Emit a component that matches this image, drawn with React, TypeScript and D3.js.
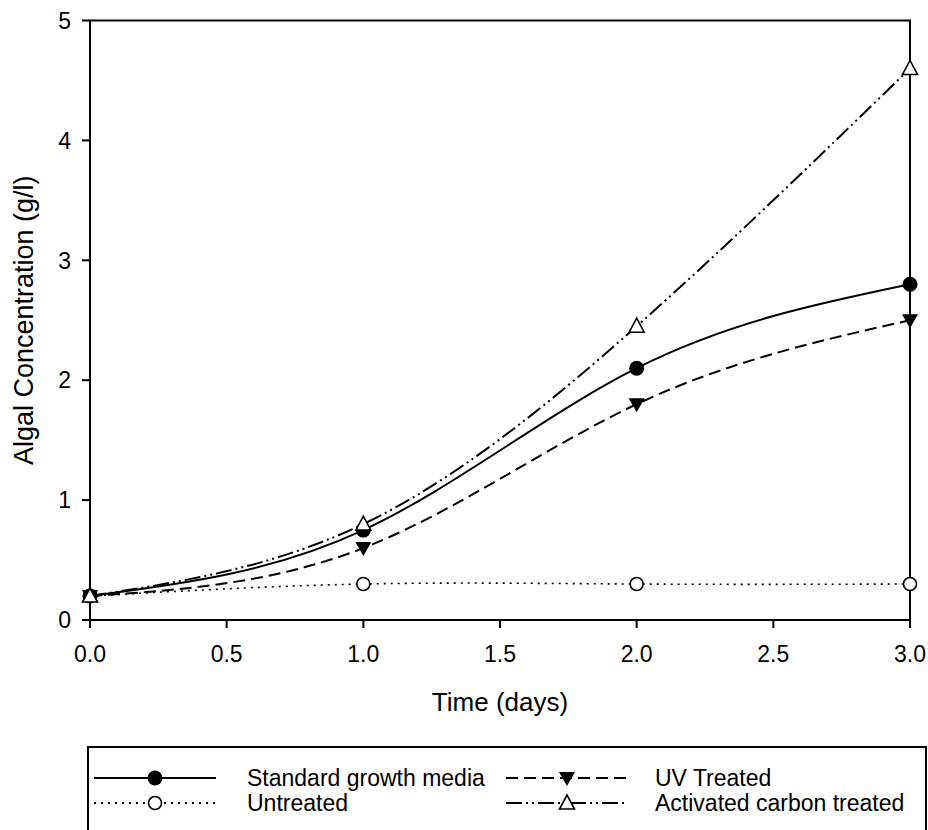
import React from "react";
import * as d3 from "d3";

const days = [0, 1, 2, 3];
const standardGrowth = [0.2, 0.75, 2.1, 2.8];
const untreated = [0.2, 0.3, 0.3, 0.3];
const uvTreated = [0.2, 0.6, 1.8, 2.5];
const activatedCarbon = [0.2, 0.8, 2.45, 4.6];
const xTicks = [0, 0.5, 1, 1.5, 2, 2.5, 3];
const yTicks = [0, 1, 2, 3, 4, 5];
const seriesNames = ["Standard growth media", "UV Treated", "Untreated", "Activated carbon treated"];

const W = 928, H = 830;
const FONT = "'Liberation Sans', Arial, Helvetica, sans-serif";

type Marker = "filledCircle" | "openCircle" | "filledDown" | "openUp";

function MarkerShape({ kind, x, y }: { kind: Marker; x: number; y: number }) {
  if (kind === "filledCircle") return <circle cx={x} cy={y} r={7.5} fill="#000" />;
  if (kind === "openCircle") return <circle cx={x} cy={y} r={6.5} fill="#fff" stroke="#000" strokeWidth={1.6} />;
  if (kind === "filledDown")
    return <path d={`M${x - 8},${y - 6} L${x + 8},${y - 6} L${x},${y + 8} Z`} fill="#000" />;
  return <path d={`M${x - 7.5},${y + 6} L${x + 7.5},${y + 6} L${x},${y - 8} Z`} fill="#fff" stroke="#000" strokeWidth={1.6} strokeLinejoin="miter" />;
}

export default function App() {
  const x = d3.scaleLinear().domain([0, 3]).range([90, 910]);
  const y = d3.scaleLinear().domain([0, 5]).range([620, 20.5]);
  const line = d3
    .line<number>()
    .x((_, i) => x(days[i]))
    .y((d) => y(d))
    .curve(d3.curveNatural);

  const series = [
    { name: seriesNames[2], data: untreated, dash: "2,5", marker: "openCircle" as Marker, width: 1.6 },
    { name: seriesNames[1], data: uvTreated, dash: "12,6", marker: "filledDown" as Marker, width: 2 },
    { name: seriesNames[0], data: standardGrowth, dash: "", marker: "filledCircle" as Marker, width: 2 },
    { name: seriesNames[3], data: activatedCarbon, dash: "16,4,2,4,2,4", marker: "openUp" as Marker, width: 2 },
  ];

  const legend = [
    { name: seriesNames[0], dash: "", marker: "filledCircle" as Marker, lx: 155, tx: 247, ly: 778 },
    { name: seriesNames[1], dash: "12,6", marker: "filledDown" as Marker, lx: 567, tx: 655, ly: 778 },
    { name: seriesNames[2], dash: "2,5", marker: "openCircle" as Marker, lx: 155, tx: 247, ly: 803 },
    { name: seriesNames[3], dash: "16,4,2,4,2,4", marker: "openUp" as Marker, lx: 567, tx: 655, ly: 803 },
  ];

  return (
    <svg width={W} height={H} style={{ position: "absolute", left: 0, top: 0, background: "#fff" }} fontFamily={FONT}>
      <rect x={0} y={0} width={W} height={H} fill="#fff" />
      {/* plot frame */}
      <rect x={x(0)} y={y(5)} width={x(3) - x(0)} height={y(0) - y(5)} fill="none" stroke="#000" strokeWidth={2} />
      {/* x ticks */}
      {xTicks.map((t) => (
        <g key={"xt" + t}>
          <line x1={x(t)} x2={x(t)} y1={y(0)} y2={y(0) + 8} stroke="#000" strokeWidth={2} />
          <text x={x(t)} y={662} textAnchor="middle" fontSize={23} fill="#000">
            {d3.format(".1f")(t)}
          </text>
        </g>
      ))}
      {/* y ticks */}
      {yTicks.map((t) => (
        <g key={"yt" + t}>
          <line x1={x(0) - 8} x2={x(0)} y1={y(t)} y2={y(t)} stroke="#000" strokeWidth={2} />
          <text x={71} y={y(t)} dy="0.36em" textAnchor="end" fontSize={23} fill="#000">
            {t}
          </text>
        </g>
      ))}
      <text x={500} y={711} textAnchor="middle" fontSize={26} fill="#000">
        Time (days)
      </text>
      <text transform={`translate(33,${(y(0) + y(5)) / 2}) rotate(-90)`} textAnchor="middle" fontSize={27} fill="#000">
        Algal Concentration (g/l)
      </text>
      {/* series lines */}
      {series.map((s) => (
        <path key={"l" + s.name} d={line(s.data) || ""} fill="none" stroke="#000" strokeWidth={s.width} strokeDasharray={s.dash || undefined} />
      ))}
      {series.map((s) => (
        <g key={"m" + s.name}>
          {s.data.map((v, i) => (
            <MarkerShape key={i} kind={s.marker} x={x(days[i])} y={y(v)} />
          ))}
        </g>
      ))}
      {/* legend */}
      <rect x={88} y={747} width={838} height={120} fill="none" stroke="#000" strokeWidth={2} />
      {legend.map((l) => (
        <g key={"lg" + l.name}>
          <line x1={l.lx - 61} x2={l.lx + 61} y1={l.ly} y2={l.ly} stroke="#000" strokeWidth={2} strokeDasharray={l.dash || undefined} />
          <MarkerShape kind={l.marker} x={l.lx} y={l.ly} />
          <text x={l.tx} y={l.ly} dy="0.36em" fontSize={23} fill="#000">
            {l.name}
          </text>
        </g>
      ))}
    </svg>
  );
}
